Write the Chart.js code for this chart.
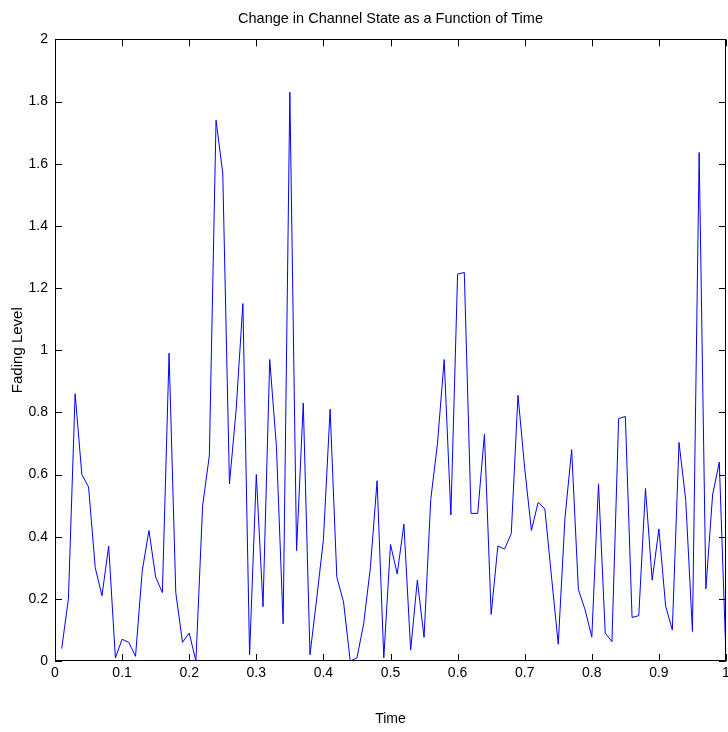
<!DOCTYPE html>
<html lang="en">
<head>
    <meta charset="UTF-8" />
    <script src="https://cdn.jsdelivr.net/npm/chart.js"></script>
    <title>Change in Channel State as a Function of Time</title>
    <style>
        body {
            margin: 0;
            background: #fff;
        }
        canvas {
            display: block;
        }
    </style>
</head>
<body>
<canvas id="myChart" width="728" height="732"></canvas>

<script>
    // time samples (s)
    const times = [
        0.01, 0.02, 0.03, 0.04, 0.05, 0.06, 0.07, 0.08, 0.09, 0.10,
        0.11, 0.12, 0.13, 0.14, 0.15, 0.16, 0.17, 0.18, 0.19, 0.20,
        0.21, 0.22, 0.23, 0.24, 0.25, 0.26, 0.27, 0.28, 0.29, 0.30,
        0.31, 0.32, 0.33, 0.34, 0.35, 0.36, 0.37, 0.38, 0.39, 0.40,
        0.41, 0.42, 0.43, 0.44, 0.45, 0.46, 0.47, 0.48, 0.49, 0.50,
        0.51, 0.52, 0.53, 0.54, 0.55, 0.56, 0.57, 0.58, 0.59, 0.60,
        0.61, 0.62, 0.63, 0.64, 0.65, 0.66, 0.67, 0.68, 0.69, 0.70,
        0.71, 0.72, 0.73, 0.74, 0.75, 0.76, 0.77, 0.78, 0.79, 0.80,
        0.81, 0.82, 0.83, 0.84, 0.85, 0.86, 0.87, 0.88, 0.89, 0.90,
        0.91, 0.92, 0.93, 0.94, 0.95, 0.96, 0.97, 0.98, 0.99, 1.00
    ];

    // fading level
    const fading = [
        0.04, 0.20, 0.86, 0.60, 0.56, 0.30, 0.21, 0.37, 0.01, 0.07,
        0.06, 0.015, 0.29, 0.42, 0.27, 0.22, 0.99, 0.22, 0.06, 0.09,
        0.00, 0.50, 0.66, 1.74, 1.57, 0.57, 0.81, 1.15, 0.02, 0.60,
        0.175, 0.97, 0.69, 0.12, 1.83, 0.355, 0.83, 0.02, 0.20, 0.39,
        0.81, 0.27, 0.19, 0.00, 0.01, 0.12, 0.30, 0.58, 0.01, 0.375,
        0.28, 0.44, 0.035, 0.26, 0.076, 0.52, 0.70, 0.97, 0.47, 1.245,
        1.25, 0.475, 0.475, 0.73, 0.15, 0.37, 0.36, 0.41, 0.855, 0.62,
        0.42, 0.51, 0.49, 0.27, 0.054, 0.46, 0.68, 0.23, 0.165, 0.077,
        0.57, 0.09, 0.062, 0.78, 0.787, 0.14, 0.146, 0.555, 0.26, 0.425,
        0.177, 0.10, 0.703, 0.517, 0.095, 1.636, 0.232, 0.534, 0.64, 0.01
    ];

    const FONT = "'Liberation Sans', Arial, Helvetica, sans-serif";

    // "1" and "2" rather than "1.0" / "2.0", like MATLAB
    const shortLabel = v => String(Number(v.toFixed(1)));

    // MATLAB-style box with ticks pointing inward on all four sides
    const boxTicks = {
        id: 'boxTicks',
        afterDatasetsDraw(chart) {
            const c = chart.ctx;
            const a = chart.chartArea;
            const len = 7;
            c.save();
            c.strokeStyle = '#000';
            c.lineWidth = 1;
            c.beginPath();
            chart.scales.x.ticks.forEach(t => {
                const px = Math.round(chart.scales.x.getPixelForValue(t.value)) + 0.5;
                c.moveTo(px, a.bottom); c.lineTo(px, a.bottom - len);
                c.moveTo(px, a.top); c.lineTo(px, a.top + len);
            });
            chart.scales.y.ticks.forEach(t => {
                const py = Math.round(chart.scales.y.getPixelForValue(t.value)) + 0.5;
                c.moveTo(a.left, py); c.lineTo(a.left + len, py);
                c.moveTo(a.right, py); c.lineTo(a.right - len, py);
            });
            c.stroke();
            c.strokeRect(Math.round(a.left) + 0.5, Math.round(a.top) + 0.5,
                Math.round(a.right - a.left) - 1, Math.round(a.bottom - a.top) - 1);
            c.restore();
        }
    };

    const ctx = document.getElementById('myChart').getContext('2d');

    const myChart = new Chart(ctx, {
        type: 'line',
        data: {
            datasets: [{
                label: 'Fading Level',
                data: times.map((t, i) => ({ x: t, y: fading[i] })),
                borderColor: '#0000ff',
                borderWidth: 1,
                pointRadius: 0,
                tension: 0,
                fill: false
            }]
        },
        options: {
            responsive: false,
            animation: false,
            layout: { padding: { top: 0, right: 2, bottom: 0, left: 0 } },
            plugins: {
                legend: { display: false },
                tooltip: { enabled: false },
                title: {
                    display: true,
                    fullSize: false,
                    text: 'Change in Channel State as a Function of Time',
                    color: '#000',
                    font: { family: FONT, size: 14.5, weight: 'normal' },
                    padding: { top: 10, bottom: 12 }
                }
            },
            scales: {
                x: {
                    type: 'linear',
                    min: 0,
                    max: 1,
                    grid: { display: false, drawTicks: false },
                    border: { display: false },
                    ticks: {
                        stepSize: 0.1,
                        autoSkip: false,
                        maxRotation: 0,
                        padding: 4,
                        color: '#000',
                        font: { family: FONT, size: 14 },
                        callback: shortLabel
                    },
                    title: {
                        display: true,
                        text: 'Time',
                        color: '#000',
                        font: { family: FONT, size: 14 },
                        padding: { top: 4, bottom: 4 }
                    },
                    afterFit(scale) {
                        scale.height = 71;
                        scale.paddingLeft = 0;
                        scale.paddingRight = 0;
                    }
                },
                y: {
                    min: 0,
                    max: 2,
                    grid: { display: false, drawTicks: false },
                    border: { display: false },
                    ticks: {
                        stepSize: 0.2,
                        padding: 7,
                        color: '#000',
                        font: { family: FONT, size: 14 },
                        callback: shortLabel
                    },
                    title: {
                        display: true,
                        text: 'Fading Level',
                        color: '#000',
                        font: { family: FONT, size: 15 },
                        padding: { top: 9, bottom: 9 }
                    },
                    afterFit(scale) {
                        scale.width = 55;
                    }
                }
            }
        },
        plugins: [boxTicks]
    });
</script>
</body>
</html>
